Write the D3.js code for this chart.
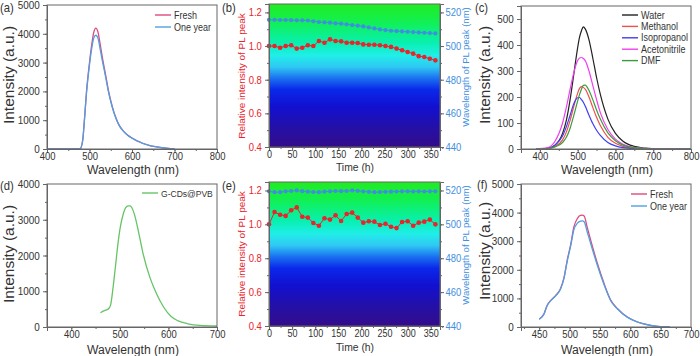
<!DOCTYPE html>
<html>
<head>
<meta charset="utf-8">
<script src="https://cdn.jsdelivr.net/npm/d3@7"></script>
<style>
  body { margin: 0; background: #fff; }
  text { font-family: Arial, "Liberation Sans", sans-serif; }
</style>
</head>
<body>
<div id="chart"></div>
<script>
// ---- data ----

// (a) PL spectra, fresh vs one year
const aWave  = [400, 470, 478, 484, 488, 493, 500, 506, 510, 515, 520, 525, 530, 535, 540, 545, 550, 556, 563, 570, 580, 590, 600, 612, 625, 640, 655, 670, 685, 700];
const aFresh = [0, 0, 10, 300, 1000, 2000, 3000, 3700, 4050, 4200, 4060, 3650, 3200, 2800, 2400, 2000, 1680, 1350, 1050, 820, 620, 480, 380, 280, 200, 130, 80, 45, 20, 5];
const aYear  = [0, 0, 10, 300, 990, 1960, 2930, 3560, 3850, 3950, 3840, 3480, 3080, 2720, 2340, 1960, 1650, 1330, 1035, 810, 612, 475, 376, 277, 198, 128, 79, 44, 20, 5];

// (b) & (e) time series, every 12 h
const hours = [0, 12, 24, 36, 48, 60, 72, 84, 96, 108, 120, 132, 144, 156, 168, 180, 192, 204, 216, 228, 240, 252, 264, 276, 288, 300, 312, 324, 336, 348, 360];
const bRel  = [1.00, 1.00, 0.99, 1.00, 1.005, 0.985, 0.99, 1.005, 1.00, 1.03, 1.02, 1.04, 1.03, 1.028, 1.02, 1.02, 1.018, 1.01, 1.008, 1.008, 1.005, 1.00, 0.995, 0.985, 0.975, 0.965, 0.955, 0.94, 0.935, 0.925, 0.915];
const bPeak = [515.6, 515.6, 515.5, 515.5, 515.4, 515.3, 515.3, 515.2, 514.7, 514.3, 514.1, 513.9, 513.5, 513.3, 512.9, 512.5, 512.1, 511.7, 511.1, 510.5, 509.9, 509.5, 509.1, 508.9, 508.7, 508.5, 508.3, 508.1, 507.9, 507.7, 507.5];
const eRel  = [1.00, 1.073, 1.057, 1.05, 1.083, 1.10, 1.045, 1.04, 1.008, 0.992, 1.036, 1.028, 1.053, 1.02, 1.061, 1.069, 1.04, 1.01, 1.018, 1.016, 0.996, 1.004, 0.986, 0.978, 1.014, 1.018, 0.992, 1.01, 1.016, 1.028, 1.00];
const ePeak = [519.5, 519.0, 519.0, 519.5, 519.7, 520.0, 519.6, 519.3, 519.1, 519.0, 519.3, 519.5, 519.7, 519.6, 519.7, 520.0, 519.8, 519.4, 519.2, 519.0, 519.1, 519.2, 519.3, 519.4, 519.5, 519.5, 519.4, 519.5, 519.4, 519.5, 519.5];

// (c) solvents
const cWave = [390, 420, 440, 460, 470, 480, 490, 500, 505, 510, 515, 520, 530, 540, 550, 560, 580, 600, 620, 650, 680, 710, 800];
const solvents = ['Water', 'Methanol', 'Isopropanol', 'Acetonitrile', 'DMF'];
const cWater   = [0, 3, 15, 60, 110, 190, 290, 390, 430, 455, 470, 462, 420, 350, 275, 210, 115, 60, 30, 10, 3, 0, 0];
const cMeth    = [0, 2, 10, 35, 65, 110, 165, 215, 233, 240, 237, 230, 200, 160, 122, 90, 45, 22, 10, 3, 1, 0, 0];
const cIso     = [0, 3, 15, 50, 85, 130, 175, 197, 198, 190, 180, 165, 130, 98, 72, 52, 25, 12, 5, 1, 0, 0, 0];
const cAce     = [0, 5, 30, 100, 160, 230, 295, 340, 350, 352, 348, 340, 300, 245, 190, 140, 75, 38, 18, 6, 2, 0, 0];
const cDmf     = [0, 2, 8, 25, 45, 80, 130, 185, 210, 230, 245, 246, 225, 190, 150, 115, 62, 32, 15, 5, 1, 0, 0];

// (d) G-CDs@PVB film
const dWave = [460, 468, 476, 481, 486, 491, 496, 501, 507, 512, 517, 521, 525, 530, 538, 548, 562, 576, 590, 605, 620, 640, 665, 700];
const dInt  = [400, 460, 500, 620, 1100, 1700, 2320, 2800, 3160, 3340, 3390, 3390, 3330, 3150, 2690, 2040, 1380, 915, 560, 300, 170, 90, 45, 28];

// (f) fresh vs one year
const fWave  = [450, 458, 463, 469, 477, 485, 491, 496, 502, 507, 513, 518, 521, 524, 529, 535, 546, 557, 568, 579, 595, 612, 628, 645, 656, 665];
const fFresh = [270, 465, 755, 930, 1100, 1340, 1745, 2325, 2900, 3490, 3800, 3900, 3910, 3880, 3490, 3020, 2210, 1510, 930, 640, 350, 175, 80, 23, 5, 0];
const fYear  = [270, 460, 745, 920, 1090, 1320, 1720, 2290, 2850, 3400, 3630, 3700, 3710, 3680, 3330, 2900, 2140, 1470, 910, 630, 345, 172, 79, 23, 5, 0];

// ---- drawing ----
const W = 700, H = 356;
const SQ = 0.9;               // the reference text is slightly condensed
const AX = '#666';
const TXT = '#333';
const RED = '#e8242c', BLUE = '#3f8fe0';

const svg = d3.select('#chart').append('svg')
  .attr('width', W).attr('height', H);

const defs = svg.append('defs');
const grad = defs.append('linearGradient')
  .attr('id', 'bg').attr('x1', 0).attr('y1', 0).attr('x2', 0).attr('y2', 1);
[[0, '#22ec22'], [0.12, '#12f050'], [0.27, '#08f0b0'], [0.36, '#20eee8'], [0.44, '#30c8f4'],
 [0.52, '#1a70f0'], [0.6, '#0a28ea'], [0.72, '#1210d0'], [0.86, '#2410a8'], [1, '#340c8a']]
  .forEach(([o, c]) => grad.append('stop').attr('offset', o).attr('stop-color', c));

function label(parent, x, y, str, size, color, anchor, rot) {
  return parent.append('text')
    .attr('transform', rot
      ? `translate(${x},${y}) rotate(-90) scale(1,${SQ})`
      : `translate(${x},${y}) scale(${SQ},1)`)
    .attr('text-anchor', anchor || 'start')
    .style('font-size', size + 'px')
    .style('fill', color || TXT)
    .text(str);
}

function panel(box, xDom, yDom) {
  const g = svg.append('g');
  const x = d3.scaleLinear().domain(xDom).range([box.x0, box.x1]);
  const y = d3.scaleLinear().domain(yDom).range([box.y1, box.y0]);
  return { g, x, y, box };
}

function axis(p, orient, scale, majors, minors, fmt, size, color) {
  const gen = { bottom: d3.axisBottom, left: d3.axisLeft, right: d3.axisRight }[orient];
  const pos = orient === 'bottom' ? `translate(0,${p.box.y1})`
    : orient === 'right' ? `translate(${p.box.x1},0)` : `translate(${p.box.x0},0)`;
  const pad = { bottom: 0, left: 4, right: 2 }[orient];
  const mg = p.g.append('g').attr('transform', pos)
    .call(gen(scale).tickValues(minors).tickSize(2).tickFormat(''));
  mg.select('.domain').remove();
  const ag = p.g.append('g').attr('transform', pos)
    .call(gen(scale).tickValues(majors).tickSize(4).tickPadding(pad).tickFormat(fmt));
  [mg, ag].forEach(s => s.selectAll('line').attr('stroke', AX));
  ag.select('.domain').attr('stroke', AX);
  ag.selectAll('text')
    .attr('transform', `scale(${SQ},1)`)
    .style('font-size', size + 'px')
    .style('font-family', 'Arial, "Liberation Sans", sans-serif')
    .attr('fill', color || TXT);
}

function frame(p) {
  const b = p.box;
  p.g.append('rect')
    .attr('x', b.x0).attr('y', b.y0)
    .attr('width', b.x1 - b.x0).attr('height', b.y1 - b.y0)
    .attr('fill', 'none').attr('stroke', AX).attr('stroke-width', 1);
}

function curve(p, xs, ys, color, w) {
  const line = d3.line().x((d, i) => p.x(xs[i])).y(d => p.y(d)).curve(d3.curveMonotoneX);
  p.g.append('path').datum(ys)
    .attr('d', line)
    .attr('fill', 'none').attr('stroke', color).attr('stroke-width', w || 1.3);
}

function legend(p, items, x, y, dy, size) {
  items.forEach((it, i) => {
    p.g.append('line')
      .attr('x1', x).attr('x2', x + 16)
      .attr('y1', y + i * dy).attr('y2', y + i * dy)
      .attr('stroke', it.color).attr('stroke-width', 1.4);
    label(p.g, x + 19, y + i * dy + 3.5, it.name, size);
  });
}

function range(a, b, s) { return d3.range(a, b + s / 2, s); }

// (a)
const pa = panel({ x0: 47, x1: 217, y0: 5, y1: 149 }, [400, 800], [0, 5000]);
curve(pa, aWave, aFresh, '#dd4a7c');
curve(pa, aWave, aYear, '#4f9fe2');
axis(pa, 'bottom', pa.x, range(400, 800, 100), range(400, 800, 50), d3.format('d'), 10.5);
axis(pa, 'left', pa.y, range(0, 5000, 1000), range(0, 5000, 500), d3.format('d'), 11);
frame(pa);
legend(pa, [{ name: 'Fresh', color: '#dd4a7c' }, { name: 'One year', color: '#4f9fe2' }], 155, 15, 12, 10);
label(svg, 14, 75, 'Intensity (a.u.)', 15.5, TXT, 'middle', true);
label(svg, 133, 174, 'Wavelength (nm)', 13.5, TXT, 'middle');
label(svg, 0, 12, '(a)', 12.5, TXT);

// (b) and (e)
function timePanel(box, rel, peak, tag, tagY, titleY, xTitleY) {
  const p = panel(box, [0, 370], [0.4, 1.25]);
  const yR = d3.scaleLinear().domain([440, 525]).range([box.y1, box.y0]);
  p.g.append('rect')
    .attr('x', box.x0).attr('y', box.y0)
    .attr('width', box.x1 - box.x0).attr('height', box.y1 - box.y0)
    .attr('fill', 'url(#bg)');
  const lb = d3.line().x((d, i) => p.x(hours[i])).y(d => yR(d));
  p.g.append('path').datum(peak).attr('d', lb)
    .attr('fill', 'none').attr('stroke', BLUE).attr('stroke-width', 1);
  p.g.selectAll(null).data(peak).join('circle')
    .attr('cx', (d, i) => p.x(hours[i])).attr('cy', d => yR(d))
    .attr('r', 2.1).attr('fill', BLUE);
  const lr = d3.line().x((d, i) => p.x(hours[i])).y(d => p.y(d));
  p.g.append('path').datum(rel).attr('d', lr)
    .attr('fill', 'none').attr('stroke', RED).attr('stroke-width', 1);
  p.g.selectAll(null).data(rel).join('circle')
    .attr('cx', (d, i) => p.x(hours[i])).attr('cy', d => p.y(d))
    .attr('r', 2.3).attr('fill', RED);
  axis(p, 'bottom', p.x, range(0, 350, 50), range(0, 370, 25), d3.format('d'), 10);
  axis(p, 'left', p.y, range(0.4, 1.2, 0.2), range(0.4, 1.2, 0.1), d3.format('.1f'), 10.5, RED);
  axis(p, 'right', yR, range(440, 520, 20), range(440, 520, 10), d3.format('d'), 10.5, BLUE);
  frame(p);
  label(svg, 245, titleY, 'Relative intensity of PL peak', 10, RED, 'middle', true);
  label(svg, 469, titleY - 9, 'Wavelength of PL peak (nm)', 9.5, BLUE, 'middle', true);
  label(svg, 355, xTitleY, 'Time (h)', 11.5, TXT, 'middle');
  label(svg, 222, tagY, tag, 12.5, TXT);
}
timePanel({ x0: 269, x1: 440, y0: 4, y1: 147 }, bRel, bPeak, '(b)', 12, 76, 171);
timePanel({ x0: 269, x1: 440, y0: 182, y1: 326 }, eRel, ePeak, '(e)', 190, 254, 351);

// (c)
const pc = panel({ x0: 521, x1: 691, y0: 6, y1: 149 }, [350, 800], [0, 550]);
const cColors = ['#222222', '#ef4f4f', '#3f3ff0', '#f040ee', '#3f9a3f'];
const cSeries = [cWater, cMeth, cIso, cAce, cDmf];
cSeries.forEach((s, i) => curve(pc, cWave, s, cColors[i], 1.2));
axis(pc, 'bottom', pc.x, range(400, 800, 100), range(350, 800, 50), d3.format('d'), 10.5);
axis(pc, 'left', pc.y, range(0, 500, 100), range(0, 550, 50), d3.format('d'), 11);
frame(pc);
legend(pc, solvents.map((n, i) => ({ name: n, color: cColors[i] })), 622, 15, 11.4, 10);
label(svg, 490, 75, 'Intensity (a.u.)', 15.5, TXT, 'middle', true);
label(svg, 607, 174, 'Wavelength (nm)', 13.5, TXT, 'middle');
label(svg, 475, 12, '(c)', 12.5, TXT);

// (d)
const pd = panel({ x0: 47, x1: 217, y0: 184, y1: 327 }, [350, 700], [0, 4000]);
curve(pd, dWave, dInt, '#66c466');
axis(pd, 'bottom', pd.x, range(400, 700, 100), range(350, 700, 50), d3.format('d'), 10.5);
axis(pd, 'left', pd.y, range(0, 4000, 1000), range(0, 4000, 500), d3.format('d'), 11);
frame(pd);
legend(pd, [{ name: 'G-CDs@PVB', color: '#66c466' }], 142, 193, 12, 9.5);
label(svg, 14, 254, 'Intensity (a.u.)', 15.5, TXT, 'middle', true);
label(svg, 133, 353.5, 'Wavelength (nm)', 13.5, TXT, 'middle');
label(svg, 0, 190, '(d)', 12.5, TXT);

// (f)
const pf = panel({ x0: 521, x1: 691, y0: 184, y1: 327 }, [420, 700], [0, 5000]);
curve(pf, fWave, fFresh, '#dd4a7c');
curve(pf, fWave, fYear, '#4f9fe2');
axis(pf, 'bottom', pf.x, range(450, 700, 50), range(425, 700, 25), d3.format('d'), 10.5);
axis(pf, 'left', pf.y, range(0, 5000, 1000), range(0, 5000, 500), d3.format('d'), 11);
frame(pf);
legend(pf, [{ name: 'Fresh', color: '#dd4a7c' }, { name: 'One year', color: '#4f9fe2' }], 631, 194, 12, 10);
label(svg, 490, 251, 'Intensity (a.u.)', 15.5, TXT, 'middle', true);
label(svg, 607, 353.5, 'Wavelength (nm)', 13.5, TXT, 'middle');
label(svg, 477, 189, '(f)', 12.5, TXT);
</script>
</body>
</html>
